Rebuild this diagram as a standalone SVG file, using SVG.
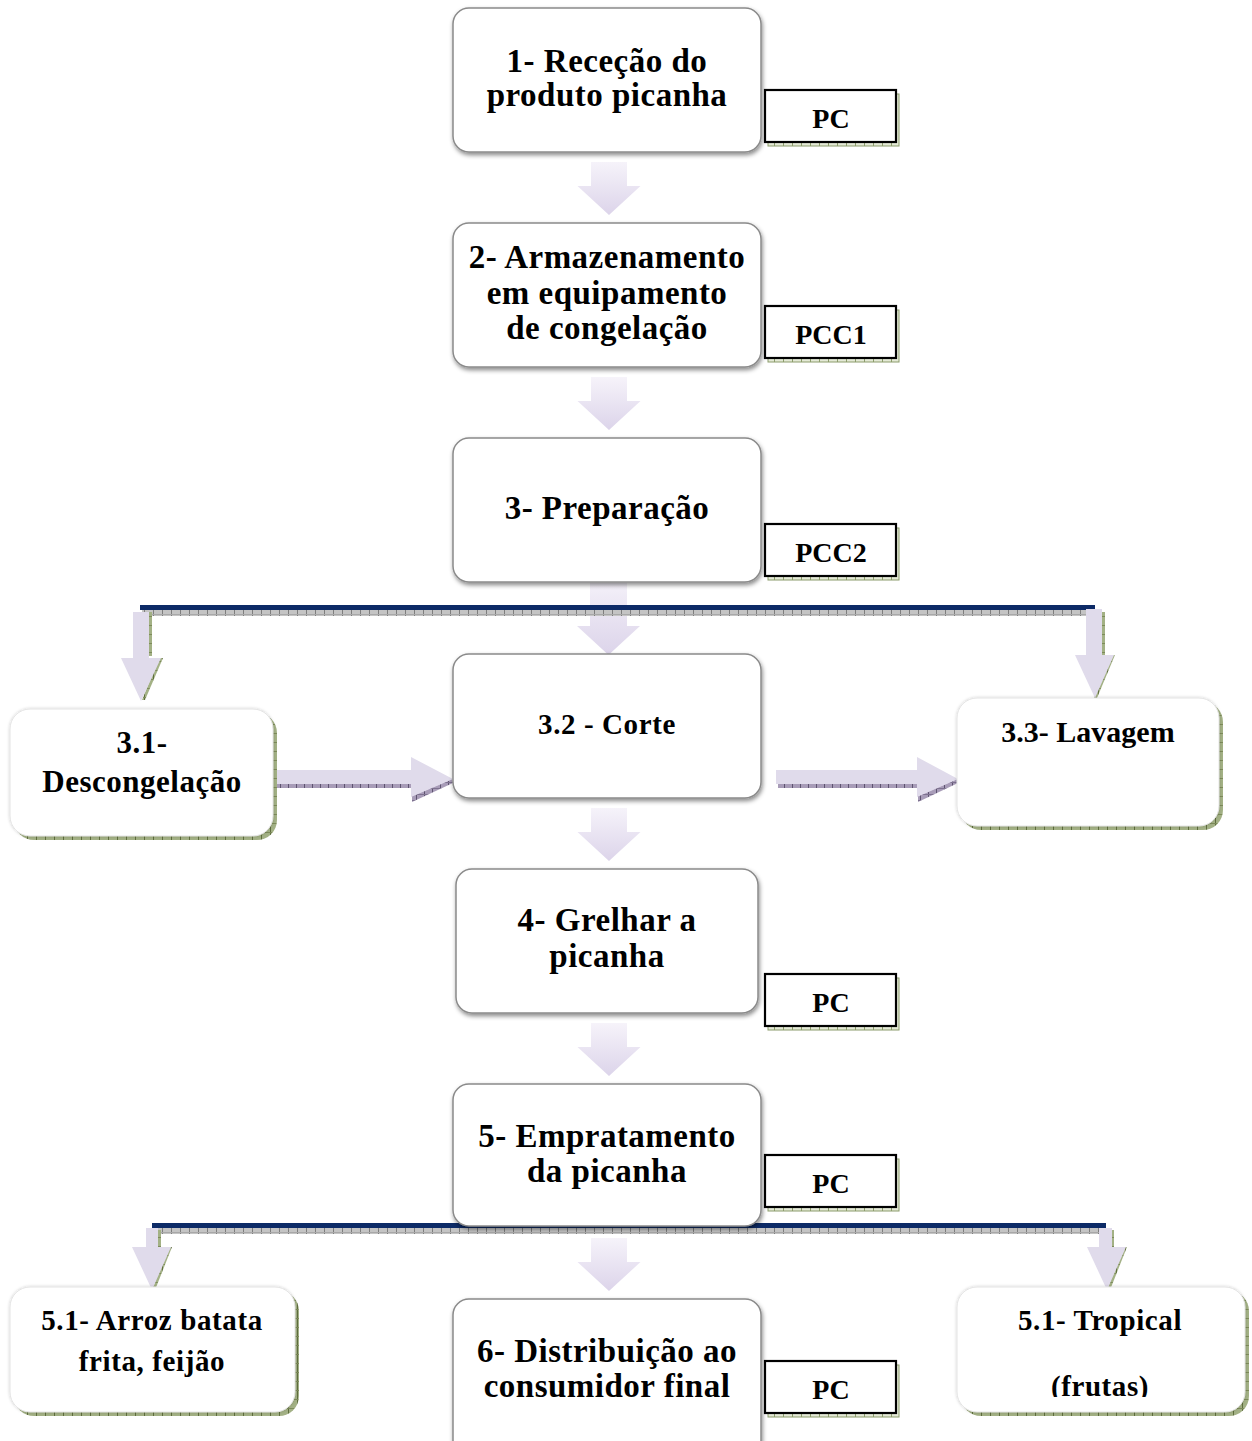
<svg xmlns="http://www.w3.org/2000/svg" width="1252" height="1441" viewBox="0 0 1252 1441">
  <style>
    .txt { font-family: "Liberation Serif", "Times New Roman", serif; font-weight: bold; fill: #000; text-anchor: middle; }
    .t32 { font-size: 33px; letter-spacing: 0.5px; }
    .t31 { font-size: 31px; letter-spacing: 0.5px; }
    .t30 { font-size: 30px; }
    .t29 { font-size: 29px; letter-spacing: 0.6px; }
    .t28 { font-size: 28px; }
    .main { fill: #fff; stroke: #8a8a8a; stroke-width: 1.5; filter: url(#shadow); }
    .side { fill: #fff; stroke: #e4e4e4; stroke-width: 1; filter: url(#glow); }
    .sideShadow { fill: url(#hatchGreen); }
    .tag { fill: #fff; stroke: #000; stroke-width: 2.2; }
    .tagShadow { fill: url(#hatchGreenLight); stroke: #8c9c6c; stroke-width: 1; }
    .flow { fill: url(#lav); }
    .branch { fill: #e0dbeb; }
    .bar { fill: #0c2a66; }
    .barShadow { fill: url(#hatchGray); }
    .greenEdge { fill: url(#hatchGreen); }
    .purpleEdge { fill: url(#hatchPurple); }
  </style>
  <defs>
    <filter id="shadow" x="-10%" y="-10%" width="125%" height="130%">
      <feDropShadow dx="1" dy="2.5" stdDeviation="2" flood-color="#000" flood-opacity="0.45"/>
    </filter>
    <filter id="glow" x="-10%" y="-10%" width="125%" height="130%">
      <feDropShadow dx="0" dy="0" stdDeviation="1.5" flood-color="#000" flood-opacity="0.2"/>
    </filter>
    <linearGradient id="lav" x1="0" y1="0" x2="0" y2="1">
      <stop offset="0" stop-color="#f6f3fa"/>
      <stop offset="1" stop-color="#dcd4ea"/>
    </linearGradient>
    <pattern id="hatchGray" width="9" height="6" patternUnits="userSpaceOnUse">
      <rect width="9" height="6" fill="#c4c4c4"/>
      <rect width="1" height="6" fill="#7e7e7e"/>
      <rect y="2" width="9" height="1" fill="#a8a8a8"/>
    </pattern>
    <pattern id="hatchGreen" width="9" height="9" patternUnits="userSpaceOnUse">
      <rect width="9" height="9" fill="#a3b185"/>
      <rect width="1" height="9" fill="#5f6e3e"/>
      <rect y="4" width="9" height="1" fill="#7d8b5a"/>
    </pattern>
    <pattern id="hatchGreenLight" width="9" height="9" patternUnits="userSpaceOnUse">
      <rect width="9" height="9" fill="#e4e9d6"/>
      <rect width="1" height="9" fill="#8c9c6c"/>
    </pattern>
    <pattern id="hatchPurple" width="8" height="6" patternUnits="userSpaceOnUse">
      <rect width="8" height="6" fill="#a89cb8"/>
      <rect width="1" height="6" fill="#5e5470"/>
      <rect y="2" width="8" height="1" fill="#7e7290"/>
    </pattern>
    <!-- block arrow pointing down, origin at top centre of the shaft -->
    <path id="downArrow" d="M-18,0 H18 V24 H31.5 L0,53 L-31.5,24 H-18 Z"/>
    <clipPath id="clipTropical">
      <rect x="957" y="1287" width="288" height="110"/>
    </clipPath>
  </defs>

  <!-- connectors -->
  <g id="connectors">
    <use href="#downArrow" class="flow" transform="translate(609,162)"/>
    <use href="#downArrow" class="flow" transform="translate(609,377)"/>
    <path class="flow" d="M590,575 H627 V626 H640 L608.5,655 L577,626 H590 Z"/>
    <use href="#downArrow" class="flow" transform="translate(609,808)"/>
    <use href="#downArrow" class="flow" transform="translate(609,1023)"/>
    <use href="#downArrow" class="flow" transform="translate(609,1238)"/>

    <!-- split bar below step 3 -->
    <rect class="barShadow" x="142" y="610" width="955" height="6"/>
    <rect class="bar" x="140" y="605" width="955" height="5"/>
    <rect class="greenEdge" x="148" y="612" width="4" height="44"/>
    <path class="greenEdge" d="M163,658 L145,700 L142,700 L159,658 Z"/>
    <path class="branch" d="M133,612 H149 V658 H161 L141,701 L121,658 H133 Z"/>
    <rect class="greenEdge" x="1101" y="612" width="4" height="44"/>
    <path class="greenEdge" d="M1115,655 L1097,698 L1094,698 L1111,655 Z"/>
    <path class="branch" d="M1086,609 H1102 V655 H1114 L1095,698 L1075,655 H1086 Z"/>

    <!-- side arrows into and out of cutting -->
    <rect class="purpleEdge" x="272" y="783" width="140" height="5"/>
    <path class="purpleEdge" d="M412,796 L452,779 L453,783 L412,802 Z"/>
    <path class="branch" d="M270,770 H411 V757 L453,779 L411,797 V784 H270 Z"/>
    <rect class="purpleEdge" x="778" y="783" width="140" height="5"/>
    <path class="purpleEdge" d="M918,796 L957,779 L958,783 L918,802 Z"/>
    <path class="branch" d="M776,770 H917 V757 L958,779 L917,797 V784 H776 Z"/>

    <!-- split bar below step 5 -->
    <rect class="barShadow" x="154" y="1228" width="952" height="6"/>
    <rect class="bar" x="152" y="1223" width="954" height="5"/>
    <rect class="greenEdge" x="157" y="1230" width="4" height="17"/>
    <path class="greenEdge" d="M172,1247 L155,1290 L152,1290 L168,1247 Z"/>
    <path class="branch" d="M146,1228 H158 V1247 H171 L152,1290 L132,1247 H146 Z"/>
    <rect class="greenEdge" x="1110" y="1230" width="4" height="17"/>
    <path class="greenEdge" d="M1127,1247 L1110,1290 L1107,1290 L1123,1247 Z"/>
    <path class="branch" d="M1099,1228 H1112 V1247 H1126 L1107,1290 L1087,1247 H1099 Z"/>
  </g>

  <!-- main process steps -->
  <g id="step1">
    <rect class="main" x="453" y="8" width="308" height="144" rx="16"/>
    <text class="txt t32" x="607" y="72">1- Receção do</text>
    <text class="txt t32" x="607" y="106">produto picanha</text>
  </g>
  <g id="step1-tag">
    <rect class="tagShadow" x="768" y="94" width="131" height="52"/>
    <rect class="tag" x="765" y="90" width="131" height="52"/>
    <text class="txt t28" x="831" y="128">PC</text>
  </g>

  <g id="step2">
    <rect class="main" x="453" y="223" width="308" height="144" rx="16"/>
    <text class="txt t32" x="607" y="268">2- Armazenamento</text>
    <text class="txt t32" x="607" y="304">em equipamento</text>
    <text class="txt t32" x="607" y="339">de congelação</text>
  </g>
  <g id="step2-tag">
    <rect class="tagShadow" x="768" y="310" width="131" height="52"/>
    <rect class="tag" x="765" y="306" width="131" height="52"/>
    <text class="txt t28" x="831" y="344">PCC1</text>
  </g>

  <g id="step3">
    <rect class="main" x="453" y="438" width="308" height="144" rx="16"/>
    <text class="txt t32" x="607" y="519">3- Preparação</text>
  </g>
  <g id="step3-tag">
    <rect class="tagShadow" x="768" y="528" width="131" height="52"/>
    <rect class="tag" x="765" y="524" width="131" height="52"/>
    <text class="txt t28" x="831" y="562">PCC2</text>
  </g>

  <g id="step3-1">
    <rect class="sideShadow" x="14" y="713" width="263" height="127" rx="20"/>
    <rect class="side" x="10" y="709" width="263" height="127" rx="20"/>
    <text class="txt t31" x="142" y="753">3.1-</text>
    <text class="txt t31" x="142" y="792">Descongelação</text>
  </g>

  <g id="step3-2">
    <rect class="main" x="453" y="654" width="308" height="144" rx="16"/>
    <text class="txt t29" x="607" y="734">3.2 - Corte</text>
  </g>

  <g id="step3-3">
    <rect class="sideShadow" x="961" y="702" width="262" height="128" rx="20"/>
    <rect class="side" x="957" y="698" width="262" height="128" rx="20"/>
    <text class="txt t30" x="1088" y="742">3.3- Lavagem</text>
  </g>

  <g id="step4">
    <rect class="main" x="456" y="869" width="302" height="144" rx="16"/>
    <text class="txt t32" x="607" y="931">4- Grelhar a</text>
    <text class="txt t32" x="607" y="967">picanha</text>
  </g>
  <g id="step4-tag">
    <rect class="tagShadow" x="768" y="978" width="131" height="52"/>
    <rect class="tag" x="765" y="974" width="131" height="52"/>
    <text class="txt t28" x="831" y="1012">PC</text>
  </g>

  <g id="step5">
    <rect class="main" x="453" y="1084" width="308" height="142" rx="16"/>
    <text class="txt t32" x="607" y="1147">5- Empratamento</text>
    <text class="txt t32" x="607" y="1182">da picanha</text>
  </g>
  <g id="step5-tag">
    <rect class="tagShadow" x="768" y="1159" width="131" height="52"/>
    <rect class="tag" x="765" y="1155" width="131" height="52"/>
    <text class="txt t28" x="831" y="1193">PC</text>
  </g>

  <g id="step5-1a">
    <rect class="sideShadow" x="14" y="1291" width="285" height="125" rx="20"/>
    <rect class="side" x="10" y="1287" width="285" height="125" rx="20"/>
    <text class="txt t29" x="152" y="1330">5.1- Arroz batata</text>
    <text class="txt t29" x="152" y="1371">frita, feijão</text>
  </g>

  <g id="step6">
    <rect class="main" x="453" y="1299" width="308" height="160" rx="16"/>
    <text class="txt t32" x="607" y="1362">6- Distribuição ao</text>
    <text class="txt t32" x="607" y="1397">consumidor final</text>
  </g>
  <g id="step6-tag">
    <rect class="tagShadow" x="768" y="1365" width="131" height="52"/>
    <rect class="tag" x="765" y="1361" width="131" height="52"/>
    <text class="txt t28" x="831" y="1399">PC</text>
  </g>

  <g id="step5-1b">
    <rect class="sideShadow" x="961" y="1291" width="288" height="125" rx="20"/>
    <rect class="side" x="957" y="1287" width="288" height="125" rx="20"/>
    <text class="txt t29" x="1100" y="1330">5.1- Tropical</text>
    <text class="txt t29" x="1100" y="1396" clip-path="url(#clipTropical)">(frutas)</text>
  </g>
</svg>
